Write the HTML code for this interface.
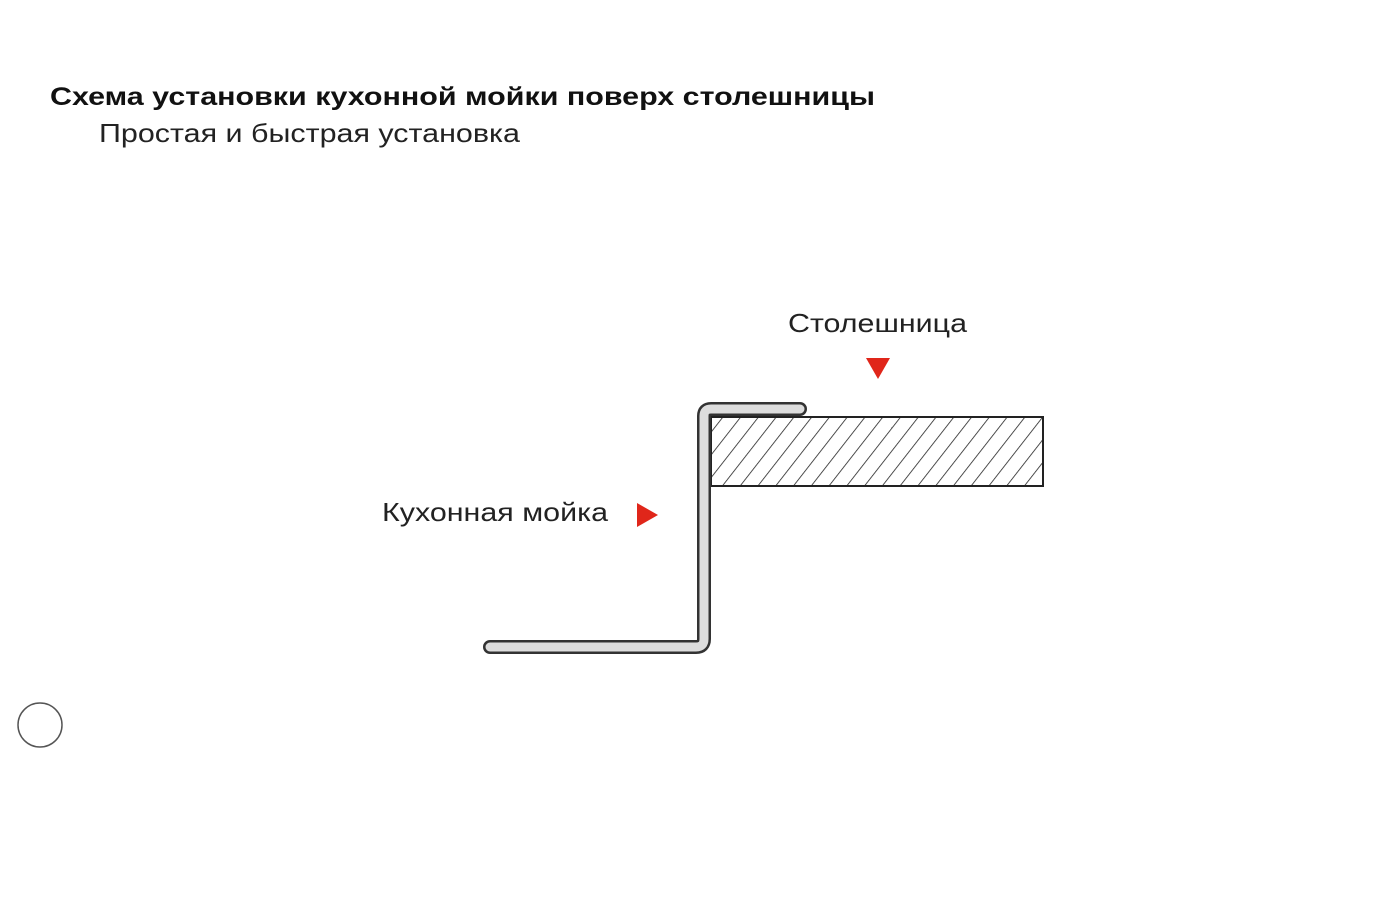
<!DOCTYPE html>
<html><head><meta charset="utf-8"><style>
body{margin:0;width:1378px;height:900px;background:#fff;overflow:hidden;font-family:"Liberation Sans",sans-serif;}
</style></head><body>
<svg width="1378" height="900" xmlns="http://www.w3.org/2000/svg">
<defs>
<pattern id="h" width="14" height="14" patternUnits="userSpaceOnUse" patternTransform="rotate(38)">
<line x1="0" y1="0" x2="0" y2="14" stroke="#222" stroke-width="1.6"/>
</pattern>
</defs>
<text x="50" y="105" font-family="Liberation Sans,sans-serif" font-size="25" font-weight="bold" fill="#111" textLength="825" lengthAdjust="spacingAndGlyphs">Схема установки кухонной мойки поверх столешницы</text>
<text x="99" y="142" font-family="Liberation Sans,sans-serif" font-size="26" fill="#222" textLength="421" lengthAdjust="spacingAndGlyphs">Простая и быстрая установка</text>
<text x="788" y="332" font-family="Liberation Sans,sans-serif" font-size="26" fill="#222" textLength="179" lengthAdjust="spacingAndGlyphs">Столешница</text>
<text x="382" y="521" font-family="Liberation Sans,sans-serif" font-size="26" fill="#222" textLength="226" lengthAdjust="spacingAndGlyphs">Кухонная мойка</text>
<polygon points="866,358 890,358 878,379" fill="#e0261a"/>
<polygon points="637,503 637,527 658,515" fill="#e0261a"/>
<rect x="711" y="417" width="332" height="69" fill="url(#h)" stroke="#222" stroke-width="2"/>
<path d="M490,647 L696,647 Q704,647 704,639 L704,416 Q704,409 711,409 L800,409" fill="none" stroke="#333" stroke-width="14" stroke-linecap="round" stroke-linejoin="round"/>
<path d="M490,647 L696,647 Q704,647 704,639 L704,416 Q704,409 711,409 L800,409" fill="none" stroke="#ddd" stroke-width="9" stroke-linecap="round" stroke-linejoin="round"/>
<circle cx="40" cy="725" r="22" fill="none" stroke="#555" stroke-width="1.5"/>
</svg>
</body></html>
